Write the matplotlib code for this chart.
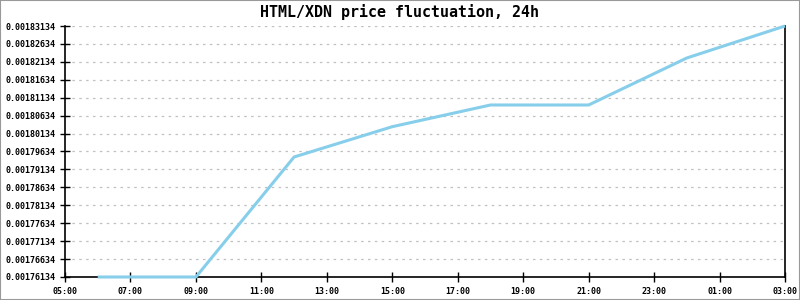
import matplotlib
matplotlib.use("Agg")
import matplotlib.pyplot as plt
from matplotlib.patches import Rectangle

title = "HTML/XDN price fluctuation, 24h"
hours = [6, 9, 12, 15, 18, 21, 24, 27]
prices = [0.00176134, 0.00176134, 0.00179481, 0.00180326, 0.00180931,
          0.00180931, 0.00182242, 0.00183134]
xtick_pos = [5, 7, 9, 11, 13, 15, 17, 19, 21, 23, 25, 27]
xtick_labels = ["05:00", "07:00", "09:00", "11:00", "13:00", "15:00",
                "17:00", "19:00", "21:00", "23:00", "01:00", "03:00"]
ytick_vals = [0.00176134 + 0.000005 * i for i in range(15)]
ytick_labels = ["%.8f" % v for v in ytick_vals]

fig = plt.figure(figsize=(8, 3), dpi=100)
ax = fig.add_axes([65/800, 1-277/300, 720/800, 251/300])

mono = "DejaVu Sans Mono"
ax.plot(hours, prices, color="#87CEEB", linewidth=2.2, solid_capstyle="butt",
        solid_joinstyle="round", zorder=3, clip_on=False)

ax.set_xlim(5, 27)
ax.set_ylim(ytick_vals[0], ytick_vals[-1])
ax.set_xticks(xtick_pos)
ax.set_xticklabels(xtick_labels, fontfamily=mono, fontsize=6, fontweight="bold")
ax.set_yticks(ytick_vals)
ax.set_yticklabels(ytick_labels, fontfamily=mono, fontsize=6, fontweight="bold")
ax.tick_params(axis="both", direction="inout", length=7, width=1, color="black", pad=4)
ax.tick_params(axis="y", pad=3)

ax.grid(axis="y", color="#c0c0c0", linestyle=(0, (2, 3.5)), linewidth=0.9)
ax.set_axisbelow(True)
ax.spines["top"].set_visible(False)
for s in ["left", "bottom", "right"]:
    ax.spines[s].set_color("black")
    ax.spines[s].set_linewidth(1.2)

fig.text(0.5, 1-12/300, title, ha="center", va="center", fontfamily=mono,
         fontsize=10.8, fontweight="bold")

fig.patches.append(Rectangle((0, 0), 1, 1, transform=fig.transFigure, fill=False,
                             edgecolor="#999999", linewidth=1.5))

fig.savefig("out.png", dpi=100)
